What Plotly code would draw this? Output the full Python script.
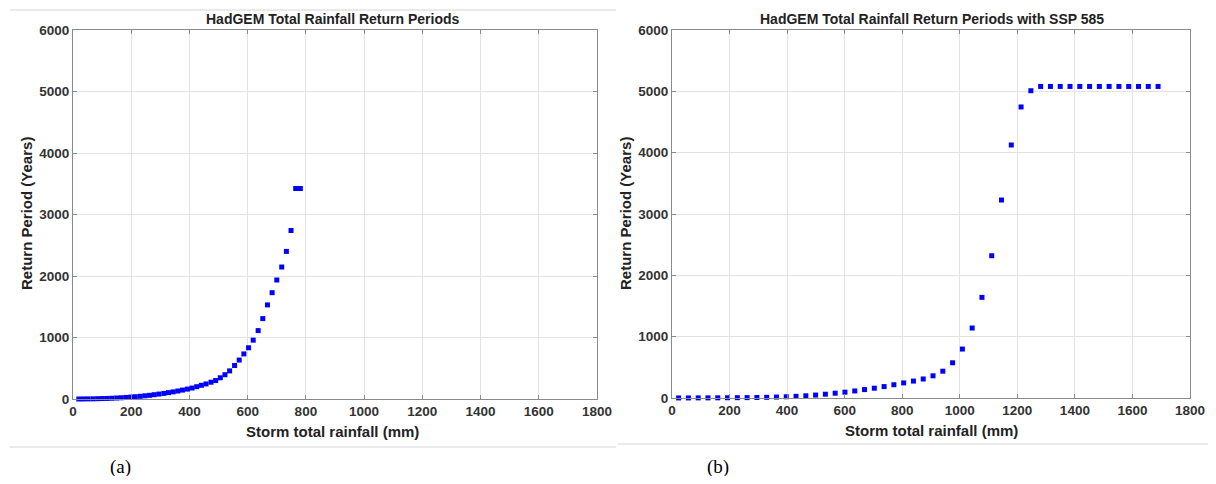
import plotly.graph_objects as go

# ---- data ----
rain_a = [20, 36, 52, 69, 85, 101, 117, 133, 150, 166, 182, 198, 214, 231, 247, 263,
          279, 295, 312, 328, 344, 360, 376, 393, 409, 425, 441, 457, 474, 490, 506, 522,
          538, 555, 571, 587, 603, 619, 636, 652, 668, 684, 700, 717, 733, 749, 765, 781]
rp_a = [0, 1, 2, 3, 5, 7, 9, 12, 16, 20, 25, 31, 37, 44, 52, 60,
        70, 80, 91, 103, 116, 130, 145, 161, 178, 200, 223, 245, 273, 300, 345, 395,
        457, 545, 633, 733, 833, 957, 1112, 1307, 1530, 1729, 1935, 2146, 2400, 2740, 3423, 3423]

rain_b = [23, 57, 91, 125, 159, 193, 227, 261, 295, 329, 363, 397, 431, 465, 499, 533,
          567, 601, 635, 669, 703, 737, 771, 805, 839, 873, 907, 941, 975, 1009, 1043, 1077,
          1111, 1145, 1179, 1213, 1247, 1281, 1315, 1349, 1383, 1417, 1451, 1485, 1519, 1553,
          1587, 1621, 1655, 1689]
rp_b = [1, 1, 2, 2, 3, 4, 5, 6, 8, 11, 15, 20, 27, 36, 48, 62,
        78, 95, 115, 137, 160, 186, 216, 246, 276, 310, 362, 437, 574, 798, 1141, 1641,
        2320, 3228, 4125, 4745, 5010, 5080, 5080, 5080, 5080, 5080, 5080, 5080, 5080, 5080,
        5080, 5080, 5080, 5080]

x_ticks = [0, 200, 400, 600, 800, 1000, 1200, 1400, 1600, 1800]
y_ticks = [0, 1000, 2000, 3000, 4000, 5000, 6000]

title_a = "HadGEM Total Rainfall Return Periods"
title_b = "HadGEM Total Rainfall Return Periods with SSP 585"
x_title = "Storm total rainfall (mm)"
y_title = "Return Period (Years)"
captions = ["(a)", "(b)"]

# the page body keeps the browser's default 8 px margin
OFF = 8
W, H = 1216 - 2 * OFF, 484 - 2 * OFF
def px(x):
    return (x - OFF) / W
def py(y):
    return 1 - (y - OFF) / H

fig = go.Figure()
fig.add_trace(go.Scatter(x=rain_a, y=rp_a, mode="markers", xaxis="x", yaxis="y",
                         marker=dict(symbol="square", size=5, color="#0000ff"),
                         showlegend=False, cliponaxis=False))
fig.add_trace(go.Scatter(x=rain_b, y=rp_b, mode="markers", xaxis="x2", yaxis="y2",
                         marker=dict(symbol="square", size=5, color="#0000ff"),
                         showlegend=False, cliponaxis=False))

FONT = "Liberation Sans, Arial, sans-serif"
tickfont = dict(family=FONT, size=13.5, color="#333333", weight="bold")
axis_common = dict(showgrid=True, gridcolor="#e3e3e3", gridwidth=1,
                   showline=True, linecolor="#8a8a8a", linewidth=1, mirror="ticks",
                   ticks="inside", ticklen=4, tickcolor="#8a8a8a",
                   tickfont=tickfont, zeroline=False, automargin=False)

fig.update_layout(
    width=W, height=H, autosize=False,
    margin=dict(l=0, r=0, t=0, b=0, autoexpand=False),
    paper_bgcolor="white", plot_bgcolor="white",
    xaxis=dict(domain=[px(73), px(597)], range=[0, 1800], tickvals=x_ticks,
               anchor="y", **axis_common),
    yaxis=dict(domain=[py(399), py(30)], range=[0, 6000], tickvals=y_ticks,
               anchor="x", **axis_common),
    xaxis2=dict(domain=[px(672), px(1190)], range=[0, 1800], tickvals=x_ticks,
                anchor="y2", **axis_common),
    yaxis2=dict(domain=[py(398), py(30)], range=[0, 6000], tickvals=y_ticks,
                anchor="x2", **axis_common),
)

ann = []
titlefont = dict(family=FONT, size=14, color="#222222", weight="bold")
labfont = dict(family=FONT, size=15, color="#222222", weight="bold")
ann.append(dict(text=title_a, x=px(333), y=py(19), xref="paper", yref="paper",
                showarrow=False, font=titlefont, xanchor="center", yanchor="middle"))
ann.append(dict(text=title_b, x=px(932), y=py(19), xref="paper", yref="paper",
                showarrow=False, font=titlefont, xanchor="center", yanchor="middle"))
ann.append(dict(text=x_title, x=px(332), y=py(431), xref="paper", yref="paper",
                showarrow=False, font=labfont, xanchor="center", yanchor="middle"))
ann.append(dict(text=x_title, x=px(931), y=py(430), xref="paper", yref="paper",
                showarrow=False, font=labfont, xanchor="center", yanchor="middle"))
ann.append(dict(text=y_title, x=px(26), y=py(214), xref="paper", yref="paper",
                showarrow=False, font=labfont, textangle=-90,
                xanchor="center", yanchor="middle"))
ann.append(dict(text=y_title, x=px(625), y=py(214), xref="paper", yref="paper",
                showarrow=False, font=labfont, textangle=-90,
                xanchor="center", yanchor="middle"))
capfont = dict(family="Liberation Serif, Times New Roman, serif", size=19, color="#000000")
ann.append(dict(text=captions[0], x=px(120), y=py(467), xref="paper", yref="paper",
                showarrow=False, font=capfont, xanchor="center", yanchor="middle"))
ann.append(dict(text=captions[1], x=px(718), y=py(467), xref="paper", yref="paper",
                showarrow=False, font=capfont, xanchor="center", yanchor="middle"))
fig.update_layout(annotations=ann)

# faint frame lines of the original screenshots
frame = "#d4d4d4"
shapes = [
    dict(type="line", xref="paper", yref="paper", x0=px(10), x1=px(616), y0=py(10), y1=py(10),
         line=dict(color=frame, width=1)),
    dict(type="line", xref="paper", yref="paper", x0=px(10), x1=px(616), y0=py(447), y1=py(447),
         line=dict(color=frame, width=1)),
    dict(type="line", xref="paper", yref="paper", x0=px(618), x1=px(1208), y0=py(444), y1=py(444),
         line=dict(color=frame, width=1)),
]
fig.update_layout(shapes=shapes)

fig.write_html("out.html")
